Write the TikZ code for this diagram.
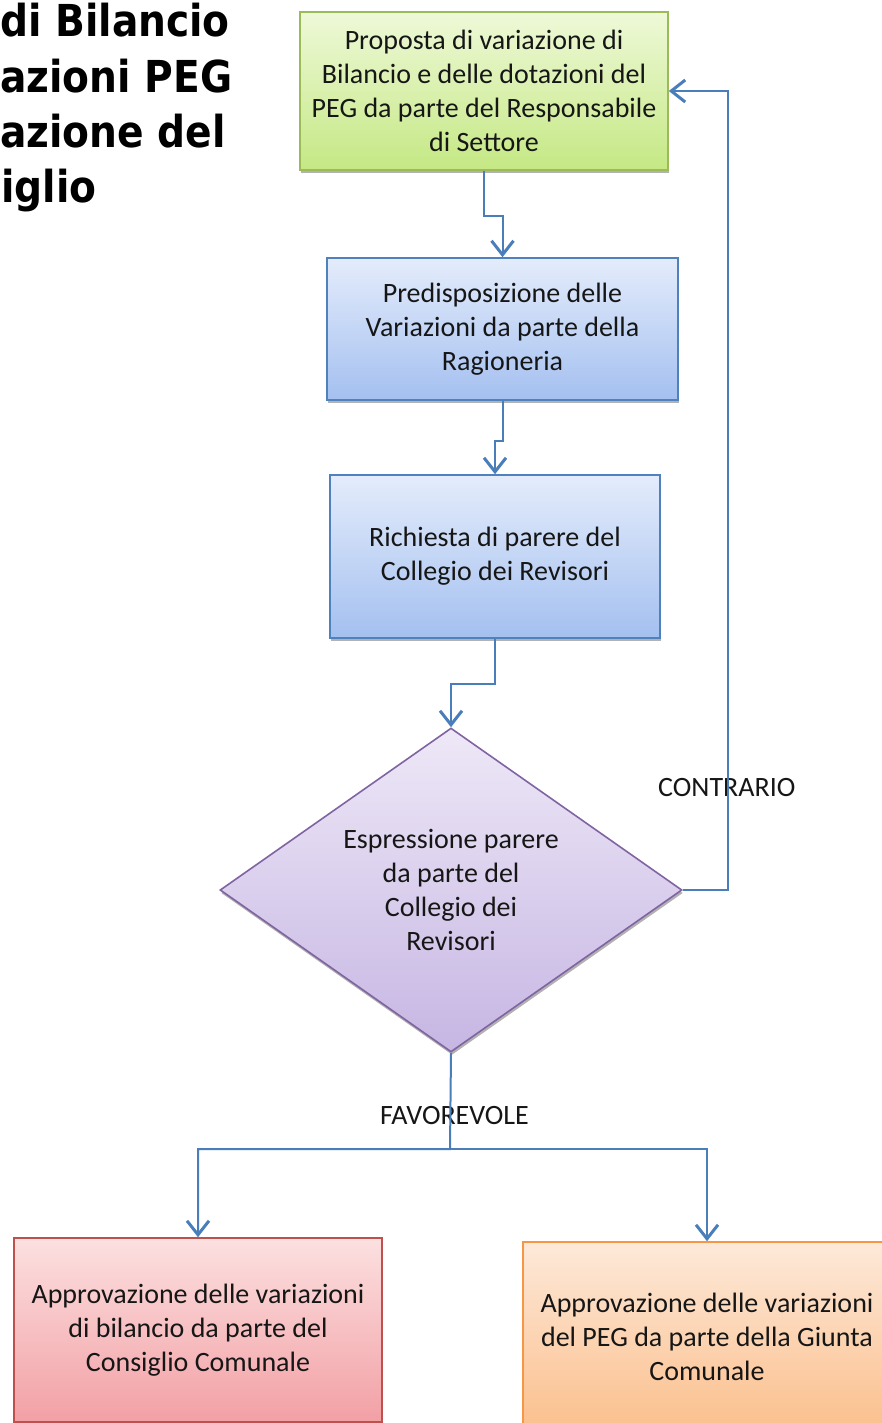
\documentclass[tikz,border=0pt]{standalone}
\usepackage{fontspec}
\setmainfont{Carlito}
\newfontfamily\titlefont[FakeStretch=0.89]{DejaVu Sans}
\usetikzlibrary{arrows.meta,shapes.geometric,shadows}
\definecolor{connc}{HTML}{4A7EBB}
\definecolor{textc}{HTML}{161616}
\definecolor{grnT}{HTML}{EEF9D8}
\definecolor{grnL}{HTML}{C5E884}
\definecolor{grnB}{HTML}{9BBB59}
\definecolor{bluT}{HTML}{E4ECFB}
\definecolor{bluL}{HTML}{A4C0F0}
\definecolor{bluB}{HTML}{4F81BD}
\definecolor{purT}{HTML}{EEE8F7}
\definecolor{purL}{HTML}{C6B6E3}
\definecolor{purB}{HTML}{8064A2}
\definecolor{redT}{HTML}{FCE0E0}
\definecolor{redL}{HTML}{F2A0A5}
\definecolor{redB}{HTML}{C0504D}
\definecolor{orT}{HTML}{FDE9D9}
\definecolor{orL}{HTML}{FBBF8C}
\definecolor{orB}{HTML}{F79646}
\begin{document}
\begin{tikzpicture}[x=1pt,y=-1pt,
  txt/.style={font=\fontsize{28}{34}\selectfont, text=textc, align=center},
  shade/.style={drop shadow={shadow xshift=1pt, shadow yshift=-3pt, fill=black, opacity=0.3}},
  boxbase/.style={txt, rectangle, line width=1.6pt, inner sep=0pt, shade},
  greenbox/.style={boxbase, draw=grnB, top color=grnT, bottom color=grnL},
  bluebox/.style={boxbase, draw=bluB, top color=bluT, bottom color=bluL},
  redbox/.style={boxbase, draw=redB, top color=redT, bottom color=redL},
  orangebox/.style={boxbase, draw=orB, top color=orT, bottom color=orL},
  decision/.style={txt, diamond, aspect=1.426, line width=1.6pt, inner sep=0pt,
    draw=purB, top color=purT, bottom color=purL, shade},
  titletxt/.style={font=\titlefont\bfseries\fontsize{44}{55}\selectfont, anchor=base west, inner sep=0pt, text=black},
  lbl/.style={txt, anchor=west, inner sep=0pt},
  conn/.style={draw=connc, line width=2pt, -{Straight Barb[length=14pt,width=22pt,line width=3pt]}},
]
\fill[white] (0,0) rectangle (882,1423);
\useasboundingbox (0,0) rectangle (882,1423);

% title
\node[titletxt] (t1) at (0,37) {di Bilancio};
\node[titletxt] (t2) at (0,93) {azioni PEG};
\node[titletxt] (t3) at (0,148) {azione del};
\node[titletxt] (t4) at (1,203) {iglio};

% boxes
\node[greenbox, minimum width=368pt, minimum height=158pt] (g) at (484,91)
  {Proposta di variazione di\\Bilancio e delle dotazioni del\\PEG da parte del Responsabile\\di Settore};
\node[bluebox, minimum width=351pt, minimum height=142pt] (b1) at (502.5,329)
  {Predisposizione delle\\Variazioni da parte della\\Ragioneria};
\node[bluebox, minimum width=330pt, minimum height=163pt] (b2) at (495,556.5)
  {Richiesta di parere del\\Collegio dei Revisori};
\node[decision, minimum width=462pt, minimum height=324pt] (d) at (451,890)
  {Espressione parere\\da parte del\\Collegio dei\\Revisori};
\node[redbox, minimum width=368pt, minimum height=184pt] (r) at (198,1330)
  {Approvazione delle variazioni\\di bilancio da parte del\\Consiglio Comunale};
\node[orangebox, minimum width=368pt, minimum height=190pt] (o) at (707,1337)
  {Approvazione delle variazioni\\del PEG da parte della Giunta\\Comunale};

% labels
\node[lbl] (lc) at (658,788) {CONTRARIO};
\node[lbl] (lf) at (380,1115) {FAVOREVOLE};

% connectors
\draw[conn] (g.south) -- ++(0,45) -| (b1.north);
\draw[conn] (b1.south) -- ++(0,40) -| (b2.north);
\draw[conn] (b2.south) -- ++(0,45) -| (d.north);
\coordinate (cr) at (728,91);
\draw[conn] (d.east) -| (cr) -- (g.east);
\coordinate (br) at (450,1149);
\draw[conn] (d.south) -- (br) -| (r.north);
\draw[conn] (br) -| (o.north);
\end{tikzpicture}
\end{document}
